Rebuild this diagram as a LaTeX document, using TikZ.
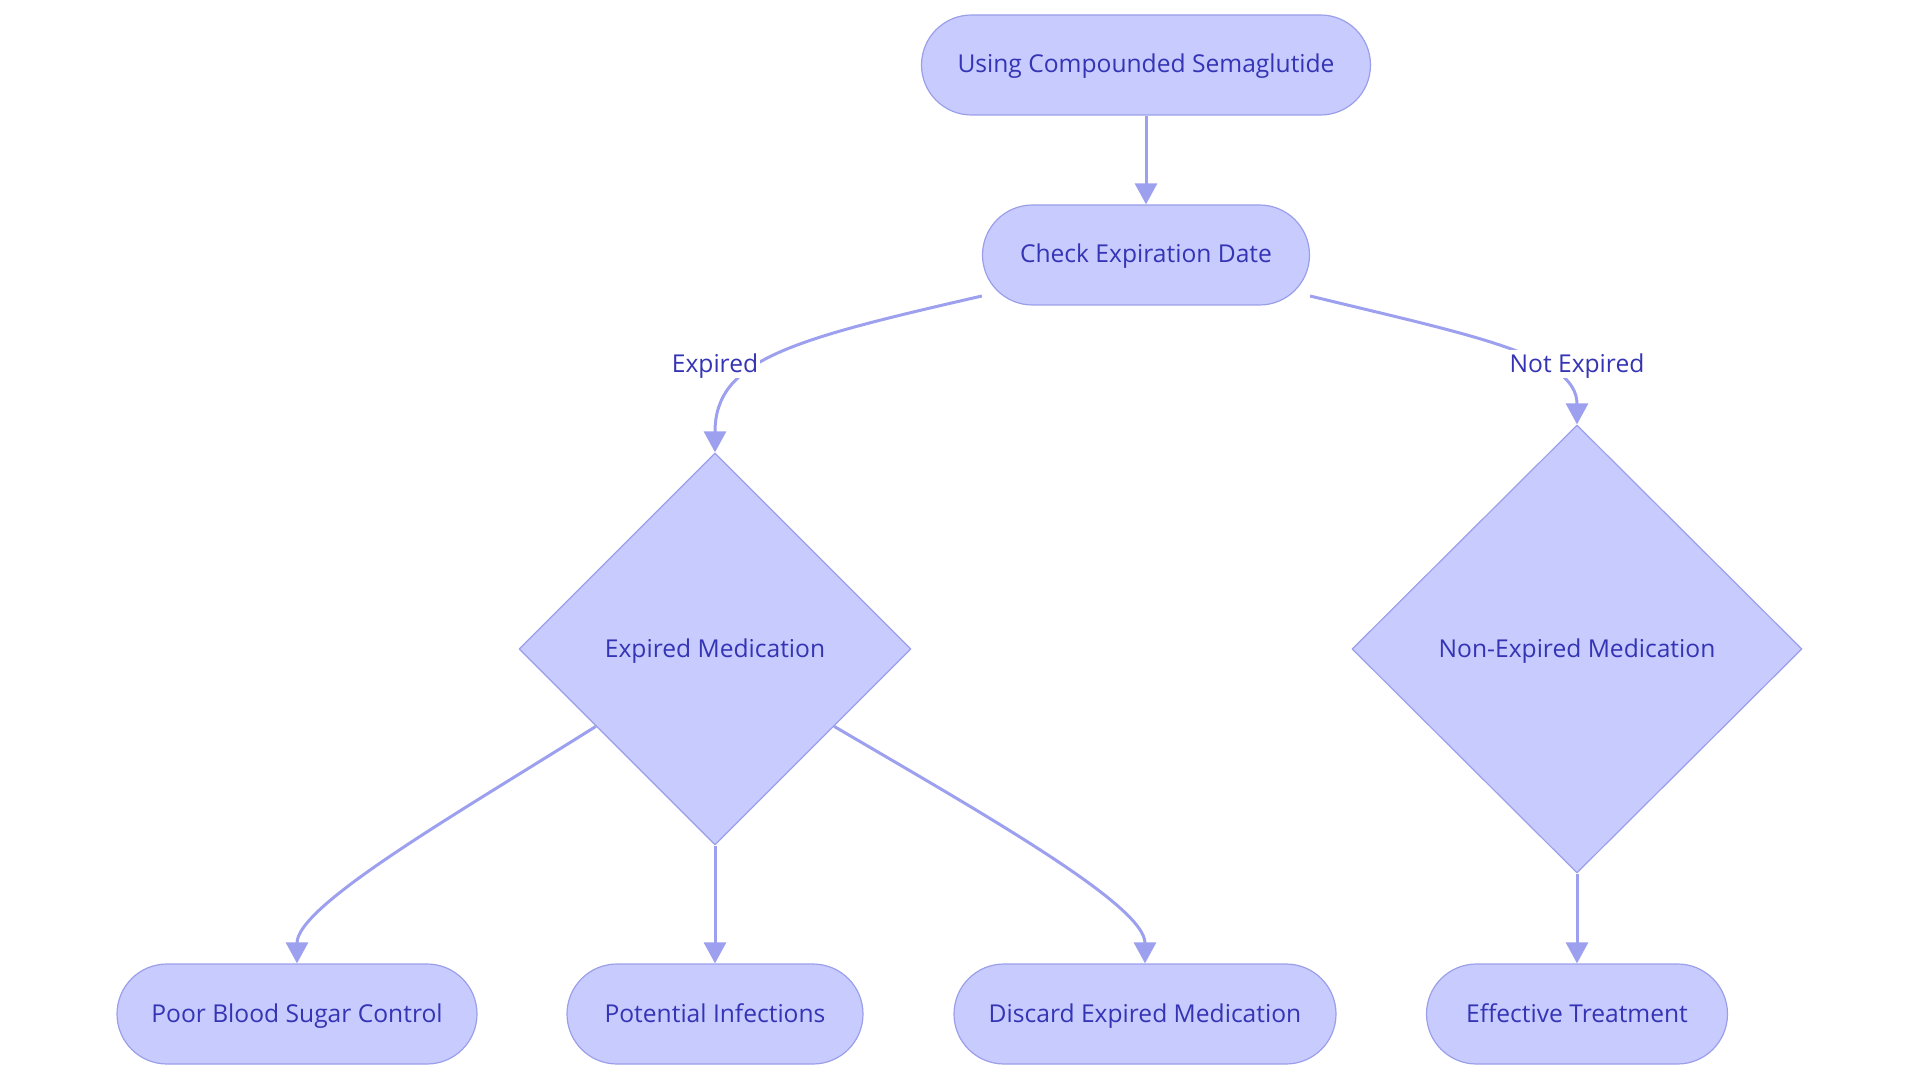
\documentclass[tikz,border=0pt]{standalone}
\usepackage{fontspec}
\setmainfont{Open Sans}
\usetikzlibrary{shapes.misc,shapes.geometric,arrows.meta}
\definecolor{boxfill}{HTML}{C7CBFD}
\definecolor{boxline}{HTML}{9B9FEA}
\definecolor{boxtext}{HTML}{3434B4}
\definecolor{edgeline}{HTML}{9DA0EE}
\tikzset{
  pill/.style={rounded rectangle, draw=boxline, fill=boxfill, line width=1.2pt, text=boxtext, minimum height=100pt, inner xsep=0pt, text height=20pt, text depth=4pt},
  rhomb/.style={diamond, draw=boxline, fill=boxfill, line width=1.2pt, text=boxtext, inner sep=0pt, text height=20pt, text depth=4pt},
  flow/.style={draw=edgeline, line width=3pt, -{Triangle[length=21pt,width=22pt]}},
  tag/.style={fill=white, text=boxtext, inner sep=2pt, text height=20pt, text depth=4pt}
}
\begin{document}
\begin{tikzpicture}[x=1pt, y=-1pt, font=\fontsize{24.6}{28}\selectfont, line join=round]
	\useasboundingbox (0,0) rectangle (1920,1083);
	\node[pill, minimum width=449pt] (use) at (1146,65) {Using Compounded Semaglutide};
	\node[pill, minimum width=327pt] (chk) at (1146,255) {Check Expiration Date};
	\node[rhomb, minimum width=392pt, minimum height=392pt] (exp) at (715,649) {Expired Medication};
	\node[rhomb, minimum width=450pt, minimum height=448pt] (nexp) at (1577,649) {Non-Expired Medication};
	\node[pill, minimum width=360pt] (poor) at (297,1014) {Poor Blood Sugar Control};
	\node[pill, minimum width=296pt] (inf) at (715,1014) {Potential Infections};
	\node[pill, minimum width=382pt] (disc) at (1145,1014) {Discard Expired Medication};
	\node[pill, minimum width=301pt] (eff) at (1577,1014) {Effective Treatment};
	\draw[flow] (use.south) -- (chk.north);
	\draw[flow] ([yshift=-41pt]chk.west) .. controls (790,340) and (715,360) .. (exp.north);
	\draw[flow] ([yshift=-41pt]chk.east) .. controls (1470,335) and (1577,355) .. (nexp.north);
	\node[tag] (lexp) at (715,364) {Expired};
	\node[tag] (lnexp) at (1577,364) {Not Expired};
	\draw[flow] (exp.213) .. controls (460,812) and (297,905) .. (poor.north);
	\draw[flow] (exp.south) -- (inf.north);
	\draw[flow] (exp.-33) .. controls (980,812) and (1145,905) .. (disc.north);
	\draw[flow] (nexp.south) -- (eff.north);
\end{tikzpicture}
\end{document}
